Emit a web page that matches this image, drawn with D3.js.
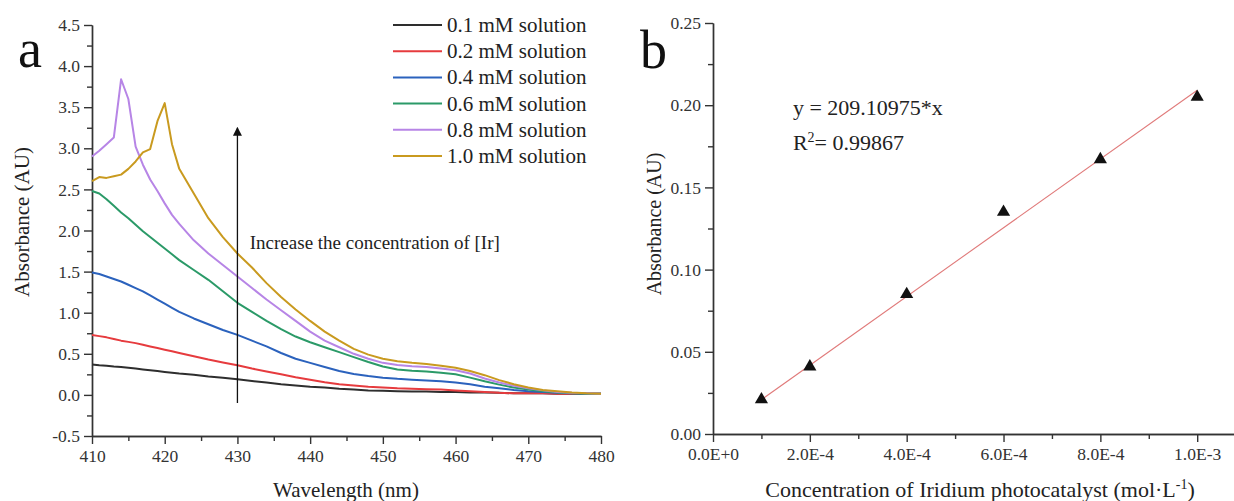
<!DOCTYPE html>
<html>
<head>
<meta charset="utf-8">
<script src="https://cdn.jsdelivr.net/npm/d3@7"></script>
<style>
  body { margin: 0; background: #fff; }
  svg { display: block; font-family: "Liberation Serif", "Times New Roman", serif; }
  .axis path, .axis line { stroke: #333; stroke-width: 1.4; }
  .axis text { font-family: "Liberation Serif", serif; font-size: 17.5px; fill: #333; }
</style>
</head>
<body>
<svg id="chart" width="1234" height="501"></svg>
<script>
// panel a: UV-vis spectra
var wavelengths = [410, 411, 412, 413, 414, 415, 416, 417, 418, 419, 420, 421, 422, 424, 426, 428, 430,
  432, 434, 436, 438, 440, 442, 444, 446, 448, 450, 452, 454, 456, 458, 460, 462, 464, 466, 468, 470,
  472, 474, 476, 478, 480];

var abs01 = [0.37, 0.36, 0.355, 0.345, 0.34, 0.33, 0.32, 0.31, 0.30, 0.29, 0.28, 0.27, 0.26, 0.245, 0.225, 0.21, 0.19,
  0.17, 0.15, 0.13, 0.115, 0.10, 0.09, 0.075, 0.065, 0.055, 0.05, 0.045, 0.04, 0.04, 0.035, 0.035, 0.03, 0.03, 0.025, 0.02, 0.02,
  0.02, 0.015, 0.015, 0.015, 0.015];
var abs02 = [0.73, 0.715, 0.70, 0.68, 0.66, 0.645, 0.63, 0.61, 0.59, 0.57, 0.55, 0.53, 0.51, 0.47, 0.43, 0.395, 0.36,
  0.32, 0.285, 0.25, 0.215, 0.185, 0.155, 0.13, 0.115, 0.10, 0.09, 0.08, 0.075, 0.07, 0.065, 0.055, 0.045, 0.035, 0.025, 0.02, 0.02,
  0.02, 0.015, 0.015, 0.015, 0.015];
var abs04 = [1.49, 1.47, 1.44, 1.41, 1.38, 1.34, 1.30, 1.26, 1.21, 1.16, 1.11, 1.06, 1.01, 0.93, 0.86, 0.79, 0.73,
  0.66, 0.59, 0.51, 0.44, 0.39, 0.34, 0.29, 0.255, 0.23, 0.21, 0.195, 0.185, 0.175, 0.165, 0.15, 0.13, 0.10, 0.08, 0.06, 0.045,
  0.035, 0.025, 0.02, 0.015, 0.015];
var abs06 = [2.48, 2.45, 2.38, 2.30, 2.22, 2.15, 2.07, 1.99, 1.92, 1.85, 1.78, 1.71, 1.64, 1.52, 1.40, 1.26, 1.12,
  1.01, 0.90, 0.80, 0.71, 0.64, 0.58, 0.52, 0.46, 0.40, 0.345, 0.31, 0.295, 0.285, 0.27, 0.25, 0.21, 0.165, 0.125, 0.09, 0.065,
  0.045, 0.03, 0.02, 0.015, 0.015];
var abs08 = [2.90, 2.97, 3.05, 3.13, 3.84, 3.60, 3.02, 2.80, 2.62, 2.48, 2.33, 2.19, 2.08, 1.88, 1.72, 1.58, 1.44,
  1.30, 1.16, 1.03, 0.90, 0.77, 0.66, 0.58, 0.50, 0.44, 0.39, 0.365, 0.35, 0.34, 0.32, 0.30, 0.26, 0.20, 0.15, 0.11, 0.08,
  0.055, 0.035, 0.025, 0.02, 0.015];
var abs10 = [2.60, 2.65, 2.64, 2.66, 2.68, 2.75, 2.84, 2.95, 2.99, 3.33, 3.55, 3.05, 2.75, 2.45, 2.15, 1.92, 1.72,
  1.55, 1.36, 1.19, 1.04, 0.90, 0.77, 0.66, 0.56, 0.49, 0.44, 0.41, 0.39, 0.375, 0.355, 0.33, 0.29, 0.24, 0.18, 0.13, 0.09,
  0.06, 0.045, 0.03, 0.02, 0.015];

var seriesNames = ['0.1 mM solution', '0.2 mM solution', '0.4 mM solution', '0.6 mM solution', '0.8 mM solution', '1.0 mM solution'];
var seriesColors = ['#2e2e2e', '#e63b3e', '#2b62bd', '#2b9a68', '#b785e6', '#c99a1f'];
var seriesValues = [abs01, abs02, abs04, abs06, abs08, abs10];

var aTicksX = [410, 420, 430, 440, 450, 460, 470, 480];
var aMinorX = [415, 425, 435, 445, 455, 465, 475];
var aTicksY = [-0.5, 0.0, 0.5, 1.0, 1.5, 2.0, 2.5, 3.0, 3.5, 4.0, 4.5];
var aMinorY = [-0.25, 0.25, 0.75, 1.25, 1.75, 2.25, 2.75, 3.25, 3.75, 4.25];

// panel b: calibration
var conc = [1e-4, 2e-4, 4e-4, 6e-4, 8e-4, 1e-3];
var absB = [0.021, 0.041, 0.085, 0.135, 0.167, 0.205];
var slope = 209.10975;
var bTicksX = [0, 2e-4, 4e-4, 6e-4, 8e-4, 1e-3];
var bMinorX = [1e-4, 3e-4, 5e-4, 7e-4, 9e-4];
var bTicksY = [0, 0.05, 0.10, 0.15, 0.20, 0.25];
var bMinorY = [0.025, 0.075, 0.125, 0.175, 0.225];

var svg = d3.select('#chart');

// ---------- panel a ----------
var xA = d3.scaleLinear().domain([410, 480]).range([92, 601]);
var yA = d3.scaleLinear().domain([-0.5, 4.5]).range([436, 25]);

var ga = svg.append('g');

ga.append('g').attr('class', 'axis').attr('transform', 'translate(0,436)')
  .call(d3.axisBottom(xA).tickValues(aMinorX).tickFormat('').tickSize(5).tickSizeOuter(0));
ga.append('g').attr('class', 'axis').attr('transform', 'translate(0,436)')
  .call(d3.axisBottom(xA).tickValues(aTicksX).tickSize(8).tickSizeOuter(0).tickPadding(6)
    .tickFormat(function(d) { return d; }));
ga.append('g').attr('class', 'axis').attr('transform', 'translate(92,0)')
  .call(d3.axisLeft(yA).tickValues(aMinorY).tickFormat('').tickSize(5).tickSizeOuter(0));
ga.append('g').attr('class', 'axis').attr('transform', 'translate(92,0)')
  .call(d3.axisLeft(yA).tickValues(aTicksY).tickSize(8).tickSizeOuter(0).tickPadding(4)
    .tickFormat(function(d) { return d.toFixed(1); }));

var lineA = d3.line()
  .x(function(d) { return xA(d[0]); })
  .y(function(d) { return yA(d[1]); });

ga.selectAll('path.spec')
  .data(seriesValues)
  .enter().append('path')
  .attr('class', 'spec')
  .attr('fill', 'none')
  .attr('stroke', function(d, i) { return seriesColors[i]; })
  .attr('stroke-width', 2)
  .attr('stroke-linejoin', 'round')
  .attr('d', function(vals) {
    return lineA(vals.map(function(v, j) { return [wavelengths[j], v]; }));
  });

// arrow
svg.append('defs').append('marker')
  .attr('id', 'arrowhead').attr('viewBox', '0 0 10 10')
  .attr('refX', 9).attr('refY', 5)
  .attr('markerWidth', 9).attr('markerHeight', 10)
  .attr('markerUnits', 'userSpaceOnUse')
  .attr('orient', 'auto')
  .append('path').attr('d', 'M0,0 L10,5 L0,10 Z').attr('fill', '#111');

ga.append('line')
  .attr('x1', xA(430)).attr('x2', xA(430))
  .attr('y1', yA(-0.1)).attr('y2', yA(3.25))
  .attr('stroke', '#111').attr('stroke-width', 1.3)
  .attr('marker-end', 'url(#arrowhead)');

ga.append('text')
  .attr('x', xA(431.7)).attr('y', yA(1.77))
  .attr('font-size', 19).attr('fill', '#222')
  .text('Increase the concentration of [Ir]');

// legend
var leg = ga.selectAll('g.leg').data(seriesNames).enter().append('g')
  .attr('class', 'leg')
  .attr('transform', function(d, i) { return 'translate(393,' + (25 + i * 26.2) + ')'; });
leg.append('line').attr('x1', 0).attr('x2', 49).attr('y1', 0).attr('y2', 0)
  .attr('stroke', function(d, i) { return seriesColors[i]; }).attr('stroke-width', 2);
leg.append('text').attr('x', 54).attr('y', 7).attr('font-size', 21).attr('fill', '#222')
  .text(function(d) { return d; });

// titles
ga.append('text').attr('x', 346).attr('y', 497).attr('text-anchor', 'middle')
  .attr('font-size', 21).attr('fill', '#222').text('Wavelength (nm)');
ga.append('text').attr('transform', 'translate(29,222) rotate(-90)').attr('text-anchor', 'middle')
  .attr('font-size', 21).attr('fill', '#222').text('Absorbance (AU)');
ga.append('text').attr('x', 18).attr('y', 67).attr('font-size', 54).attr('fill', '#111').text('a');

// ---------- panel b ----------
var xB = d3.scaleLinear().domain([0, 1.076e-3]).range([713, 1234]);
var yB = d3.scaleLinear().domain([0, 0.25]).range([434, 23]);

var gb = svg.append('g');

var sciFmt = function(d) {
  if (d === 0) return '0.0E+0';
  var e = Math.floor(Math.log10(d) + 1e-9);
  var m = d / Math.pow(10, e);
  return m.toFixed(1) + 'E' + (e < 0 ? '-' : '+') + Math.abs(e);
};

gb.append('g').attr('class', 'axis').attr('transform', 'translate(0,434)')
  .call(d3.axisBottom(xB).tickValues(bMinorX).tickFormat('').tickSize(5).tickSizeOuter(0));
gb.append('g').attr('class', 'axis').attr('transform', 'translate(0,434)')
  .call(d3.axisBottom(xB).tickValues(bTicksX).tickSize(8).tickSizeOuter(0).tickPadding(6).tickFormat(sciFmt));
gb.append('g').attr('class', 'axis').attr('transform', 'translate(713,0)')
  .call(d3.axisLeft(yB).tickValues(bMinorY).tickFormat('').tickSize(5).tickSizeOuter(0));
gb.append('g').attr('class', 'axis').attr('transform', 'translate(713,0)')
  .call(d3.axisLeft(yB).tickValues(bTicksY).tickSize(8).tickSizeOuter(0).tickPadding(4)
    .tickFormat(function(d) { return d.toFixed(2); }));

// fit line
gb.append('line')
  .attr('x1', xB(conc[0])).attr('y1', yB(slope * conc[0]))
  .attr('x2', xB(conc[conc.length - 1])).attr('y2', yB(slope * conc[conc.length - 1]))
  .attr('stroke', '#e07a7a').attr('stroke-width', 1.1);

gb.selectAll('path.pt').data(conc).enter().append('path')
  .attr('class', 'pt')
  .attr('d', d3.symbol().type(d3.symbolTriangle).size(75))
  .attr('transform', function(d, i) { return 'translate(' + xB(d) + ',' + yB(absB[i]) + ')'; })
  .attr('fill', '#111');

gb.append('text').attr('x', xB(1.65e-4)).attr('y', yB(0.194))
  .attr('font-size', 22).attr('fill', '#222').text('y = 209.10975*x');
var r2 = gb.append('text').attr('x', xB(1.65e-4)).attr('y', yB(0.173))
  .attr('font-size', 22).attr('fill', '#222');
r2.append('tspan').text('R');
r2.append('tspan').attr('dy', -8).attr('font-size', 14).text('2');
r2.append('tspan').attr('dy', 8).text('= 0.99867');

var xt = gb.append('text').attr('x', 980).attr('y', 497).attr('text-anchor', 'middle')
  .attr('font-size', 22).attr('fill', '#222');
xt.append('tspan').text('Concentration of Iridium photocatalyst (mol\u00B7L');
xt.append('tspan').attr('dy', -8).attr('font-size', 14).text('-1');
xt.append('tspan').attr('dy', 8).text(')');

gb.append('text').attr('transform', 'translate(661,224) rotate(-90)').attr('text-anchor', 'middle')
  .attr('font-size', 20).attr('fill', '#222').text('Absorbance (AU)');
gb.append('text').attr('x', 640).attr('y', 68).attr('font-size', 54).attr('fill', '#111').text('b');
</script>
</body>
</html>
